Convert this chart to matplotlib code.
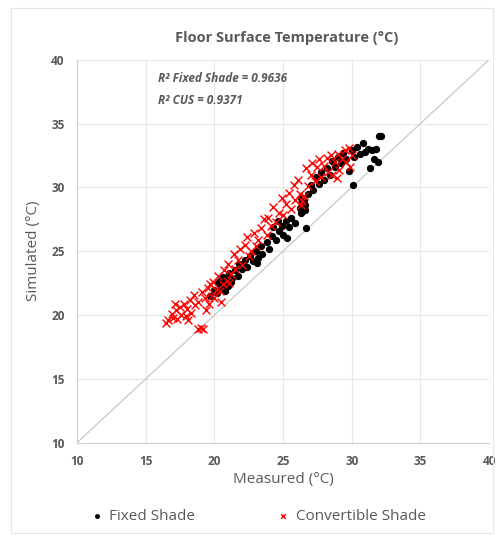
import matplotlib.pyplot as plt
from matplotlib.patches import Rectangle

plt.rcParams['font.family'] = ['Open Sans', 'DejaVu Sans']

# Fixed shade (black dots)
fixed_x = [19.7, 20.0, 20.2, 20.3, 20.5, 20.6, 20.7, 20.9, 21.0, 21.1, 21.3, 21.5,
           21.7, 21.8, 22.0, 22.2, 22.4, 22.6, 22.8, 23.0, 23.2, 23.4, 23.5, 23.8,
           24.0, 24.2, 24.3, 24.5, 24.7, 24.9, 25.0, 25.2, 25.4, 25.6, 25.9, 26.2,
           26.3, 26.4, 26.5, 26.6, 26.7, 26.6, 26.8, 27.0, 27.2, 27.4, 27.6, 27.8,
           28.0, 28.2, 28.4, 28.6, 28.8, 29.0, 29.2, 29.4, 29.6, 29.8, 30.0, 30.1,
           30.2, 30.4, 30.6, 30.8, 31.0, 31.2, 31.3, 31.5, 31.6, 31.8, 31.9, 32.0,
           32.1, 20.4, 20.8, 21.2, 26.3, 26.5, 24.6, 25.3, 23.1, 22.1]
fixed_y = [21.5, 22.0, 21.7, 22.5, 22.2, 23.0, 22.4, 22.8, 22.3, 23.3, 22.9, 23.5,
           23.1, 24.0, 23.6, 24.3, 23.8, 24.6, 24.2, 25.0, 24.5, 25.4, 24.8, 25.7,
           25.2, 26.2, 26.9, 25.9, 26.6, 27.0, 26.3, 27.4, 26.9, 27.6, 27.2, 28.4,
           29.2, 28.8, 29.0, 28.6, 26.8, 28.2, 29.5, 30.2, 29.8, 30.8, 30.3, 31.2,
           30.6, 31.5, 31.0, 32.1, 31.6, 32.4, 31.9, 32.7, 32.2, 31.3, 32.9, 30.2,
           32.4, 33.2, 32.6, 33.5, 32.8, 33.0, 31.5, 32.9, 32.2, 33.0, 32.0, 34.0,
           34.0, 22.7, 21.9, 22.6, 28.0, 28.3, 27.4, 26.0, 24.1, 24.0]

# Convertible shade (red crosses)
cus_x = [16.5, 16.6, 16.9, 17.0, 17.2, 17.3, 17.5, 17.6, 17.8, 17.9, 18.0, 18.2,
         18.3, 18.5, 18.6, 18.8, 18.8, 19.0, 19.2, 19.1, 19.3, 19.4, 19.5, 19.6,
         19.8, 19.9, 20.0, 20.1, 20.3, 20.4, 20.6, 20.7, 20.9, 21.0, 21.2, 21.4,
         21.5, 21.7, 21.9, 22.0, 22.2, 22.4, 22.5, 22.7, 22.9, 23.0, 23.2, 23.4,
         23.6, 23.8, 23.9, 24.1, 24.3, 24.5, 24.7, 24.9, 25.0, 25.2, 25.4, 25.6,
         25.8, 25.9, 26.1, 26.2, 26.3, 26.4, 26.5, 26.7, 26.8, 27.0, 27.1, 27.3,
         27.5, 27.6, 27.8, 28.0, 28.2, 28.3, 28.5, 28.6, 28.8, 29.0, 29.1, 29.3,
         29.5, 29.6, 29.8, 30.0, 29.9, 28.9, 17.1, 18.1, 19.7, 20.5, 21.1]
cus_y = [19.4, 19.6, 20.1, 19.8, 20.4, 19.7, 20.6, 20.0, 20.9, 19.9, 20.5, 21.2,
         20.2, 21.6, 20.8, 21.0, 18.9, 19.0, 18.9, 21.8, 21.3, 20.4, 22.1, 20.9,
         21.5, 22.6, 21.3, 22.0, 23.1, 21.9, 22.4, 23.5, 22.7, 24.0, 23.2, 24.8,
         23.6, 24.3, 25.2, 23.9, 25.5, 26.1, 24.6, 25.0, 26.4, 25.4, 25.9, 26.8,
         27.5, 26.3, 27.6, 27.0, 28.5, 27.3, 28.0, 29.2, 27.8, 28.7, 29.6, 28.3,
         30.2, 29.0, 30.6, 29.5, 28.6, 28.9, 29.3, 31.5, 30.1, 31.0, 31.9, 30.5,
         31.6, 32.2, 30.8, 31.7, 32.3, 31.2, 32.5, 31.0, 32.0, 32.6, 31.4, 32.2,
         32.9, 32.0, 33.1, 32.5, 31.6, 30.7, 20.9, 19.6, 22.4, 21.0, 22.5]

ticks = [10, 15, 20, 25, 30, 35, 40]
grey = '#595959'

fig = plt.figure(figsize=(4.97, 5.38), dpi=100, facecolor='w')
fig.patches.append(Rectangle((0.022, 0.01), 0.97, 0.975, transform=fig.transFigure,
                             fill=False, edgecolor='#e6e6e6', linewidth=0.8))
ax = fig.add_axes([0.155, 0.177, 0.829, 0.712])

ax.plot(ticks, ticks, '-', color='#c8c8c8', linewidth=0.9, zorder=1)
ax.scatter(fixed_x, fixed_y, s=18, color='black', marker='o', zorder=3,
           label='Fixed Shade')
ax.scatter(cus_x, cus_y, s=32, color='#ff0000', marker='x', linewidths=1.0,
           zorder=4, label='Convertible Shade')

ax.set_xlim(10, 40)
ax.set_ylim(10, 40)
ax.set_xticks(ticks)
ax.set_yticks(ticks)
ax.grid(True, color='#e8e8e8', linewidth=0.8)
ax.set_axisbelow(True)
for s in ['top', 'right']:
    ax.spines[s].set_visible(False)
for s in ['left', 'bottom']:
    ax.spines[s].set_color('#d0d0d0')
ax.tick_params(length=0, labelsize=8.5, labelcolor=grey, pad=9)
for lab in ax.get_xticklabels() + ax.get_yticklabels():
    lab.set_fontweight('bold')

ax.set_xlabel('Measured (°C)', fontsize=11, color=grey, labelpad=3)
ax.set_ylabel('Simulated (°C)', fontsize=11, color=grey, labelpad=7)
fig.text(0.577, 0.929, 'Floor Surface Temperature (°C)', ha='center', va='center',
         fontsize=10.5, fontweight='bold', color=grey)

ax.text(0.197, 0.95, 'R² Fixed Shade = 0.9636', transform=ax.transAxes,
        fontsize=8.5, style='italic', fontweight='bold', color=grey, va='center')
ax.text(0.197, 0.894, 'R² CUS = 0.9371', transform=ax.transAxes,
        fontsize=8.5, style='italic', fontweight='bold', color=grey, va='center')

leg = fig.legend(loc='center', bbox_to_anchor=(0.51, 0.04), ncol=2, frameon=False,
                 fontsize=11, handletextpad=-0.2, columnspacing=4.8,
                 markerscale=0.6)
for t in leg.get_texts():
    t.set_color(grey)

plt.savefig('out.png', dpi=100, facecolor='w')
